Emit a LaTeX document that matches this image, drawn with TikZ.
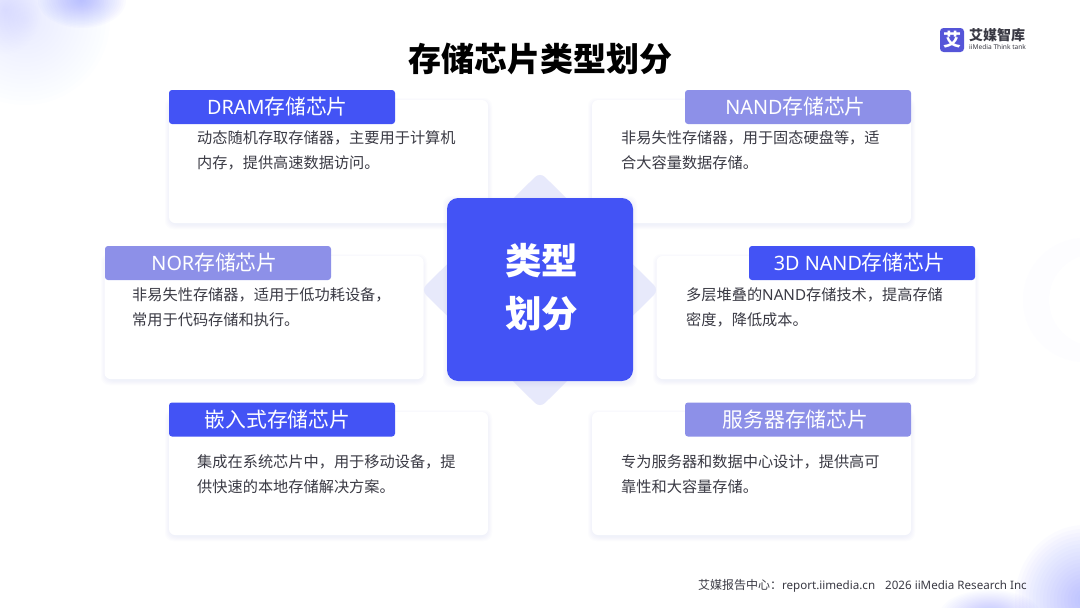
\documentclass[tikz,border=0pt]{standalone}
\usepackage{fontspec}
\setmainfont{Noto Sans CJK SC}
\newfontfamily\latinface{Noto Sans}
\usetikzlibrary{shapes.geometric}
\definecolor{brandblue}{HTML}{4353F5}
\definecolor{softblue}{HTML}{8D90E8}
\definecolor{diamondtint}{HTML}{E7E9FB}
\definecolor{bodytext}{HTML}{3A3A44}
\definecolor{blobcolor}{HTML}{7C86FF}
\definecolor{shadowtint}{HTML}{B4BEE6}
\newcommand{\softblob}[5]{%
  \foreach \k in {1,...,20}{
    \fill[blobcolor,opacity=#5] (#1,#2) ellipse[x radius={#3*(1.05-\k/20)},y radius={#4*(1.05-\k/20)}];
  }}
\newcommand{\softshadow}[4]{%
  \foreach \k in {1,...,5}{
    \fill[shadowtint,opacity=0.035,rounded corners=8pt] (#1-5+\k,#2-3+\k) rectangle (#3+5-\k,#4+7-\k);
  }}
\newcommand{\latintag}[1]{{\latinface\fontsize{19.8}{24}\selectfont #1}}
\tikzset{
  x=1pt,y=-1pt,
  card/.style={fill=white,rounded corners=6pt,inner sep=0pt,minimum width=319pt,minimum height=123pt},
  tagbase/.style={rounded corners=3pt,inner sep=0pt,minimum width=226pt,minimum height=34pt,text=white,font=\fontsize{20.8}{24}\selectfont},
  tagdark/.style={tagbase,fill=brandblue},
  taglight/.style={tagbase,fill=softblue},
  bodynote/.style={anchor=west,align=left,inner sep=0pt,text=bodytext,font=\fontsize{15.2}{25}\selectfont},
  hub/.style={fill=brandblue,rounded corners=11pt,inner sep=0pt,minimum width=186pt,minimum height=183pt},
  hubtext/.style={inner sep=0pt,text=white,align=center,font=\bfseries\fontsize{36.5}{53}\selectfont},
  backdiamond/.style={diamond,fill=diamondtint,rounded corners=7pt,inner sep=0pt,minimum width=238pt,minimum height=236pt},
  headline/.style={inner sep=0pt,text=black,font=\bfseries\fontsize{33}{38}\selectfont},
  footnote/.style={anchor=east,inner sep=0pt,text=bodytext,font=\fontsize{12}{14}\selectfont},
}
\begin{document}
\begin{tikzpicture}
\useasboundingbox (0,0) rectangle (1080,608);
\begin{scope}
\clip (0,0) rectangle (1080,608);
\fill[white] (0,0) rectangle (1080,608);
\softblob{25}{20}{85}{85}{0.008}
\softblob{82}{0}{44}{28}{0.028}
\softblob{5}{10}{36}{44}{0.006}
\softblob{1085}{600}{70}{75}{0.026}
\softblob{990}{614}{50}{24}{0.022}
\fill[blobcolor!1.5!white] (1085,300) circle[radius=62];
\fill[white] (1095,300) circle[radius=46];
\end{scope}

\softshadow{169}{100}{488}{223}
\softshadow{592}{100}{911}{223}
\softshadow{105}{256}{423}{379}
\softshadow{657}{256}{975}{379}
\softshadow{169}{412}{488}{535}
\softshadow{592}{412}{911}{535}

\node[card] (c1) at (328.5,161.5) {};
\node[card] (c2) at (751.5,161.5) {};
\node[card] (c3) at (264,317.5) {};
\node[card] (c4) at (816,317.5) {};
\node[card] (c5) at (328.5,473.5) {};
\node[card] (c6) at (751.5,473.5) {};

\node[backdiamond] (dia) at (540,290) {};
\softshadow{447}{198}{633}{381}
\node[hub] (center) at (540,289.5) {};
\node[hubtext] (centertext) at (541.5,287.5) {类型\\划分};

\node[headline] (title) at (540,59) {存储芯片类型划分};

\node[tagdark]  (t1) at (282,107) {\latintag{DRAM}存储芯片\hspace*{9pt}};
\node[taglight] (t2) at (798,107) {\latintag{NAND}存储芯片\hspace*{5pt}};
\node[taglight] (t3) at (218,263) {\latintag{NOR}存储芯片\hspace*{7pt}};
\node[tagdark]  (t4) at (862,263) {\latintag{3D NAND}存储芯片\hspace*{5pt}};
\node[tagdark]  (t5) at (282,419.5) {嵌入式存储芯片\hspace*{9pt}};
\node[taglight] (t6) at (798,419.5) {服务器存储芯片\hspace*{5pt}};

\node[bodynote] (b1) at (197,150) {动态随机存取存储器，主要用于计算机\\内存，提供高速数据访问。};
\node[bodynote] (b2) at (621,150) {非易失性存储器，用于固态硬盘等，适\\合大容量数据存储。};
\node[bodynote] (b3) at (132,307.5) {非易失性存储器，适用于低功耗设备，\\常用于代码存储和执行。};
\node[bodynote] (b4) at (686,307.5) {多层堆叠的{\latinface NAND}存储技术，提高存储\\密度，降低成本。};
\node[bodynote] (b5) at (197,474) {集成在系统芯片中，用于移动设备，提\\供快速的本地存储解决方案。};
\node[bodynote] (b6) at (621,474) {专为服务器和数据中心设计，提供高可\\靠性和大容量存储。};

\node[footnote] (foot) at (1027,585.5) {艾媒报告中心：{\latinface\fontsize{11.6}{14}\selectfont report.iimedia.cn\hspace{10pt}2026 iiMedia Research Inc}};

\node[fill={rgb,255:red,85;green,85;blue,216},rounded corners=3.5pt,minimum width=24pt,minimum height=24pt,inner sep=0pt,text=white,font=\bfseries\fontsize{18}{18}\selectfont] (logo) at (952,40) {艾};
\node[anchor=west,inner sep=0pt,text=bodytext,font=\bfseries\fontsize{14}{14}\selectfont] (logoa) at (969,35.5) {艾媒智库};
\node[anchor=west,inner sep=0pt,text=bodytext,font=\latinface\fontsize{6.6}{7}\selectfont] (logob) at (969,47.5) {iiMedia Think tank};
\end{tikzpicture}
\end{document}
